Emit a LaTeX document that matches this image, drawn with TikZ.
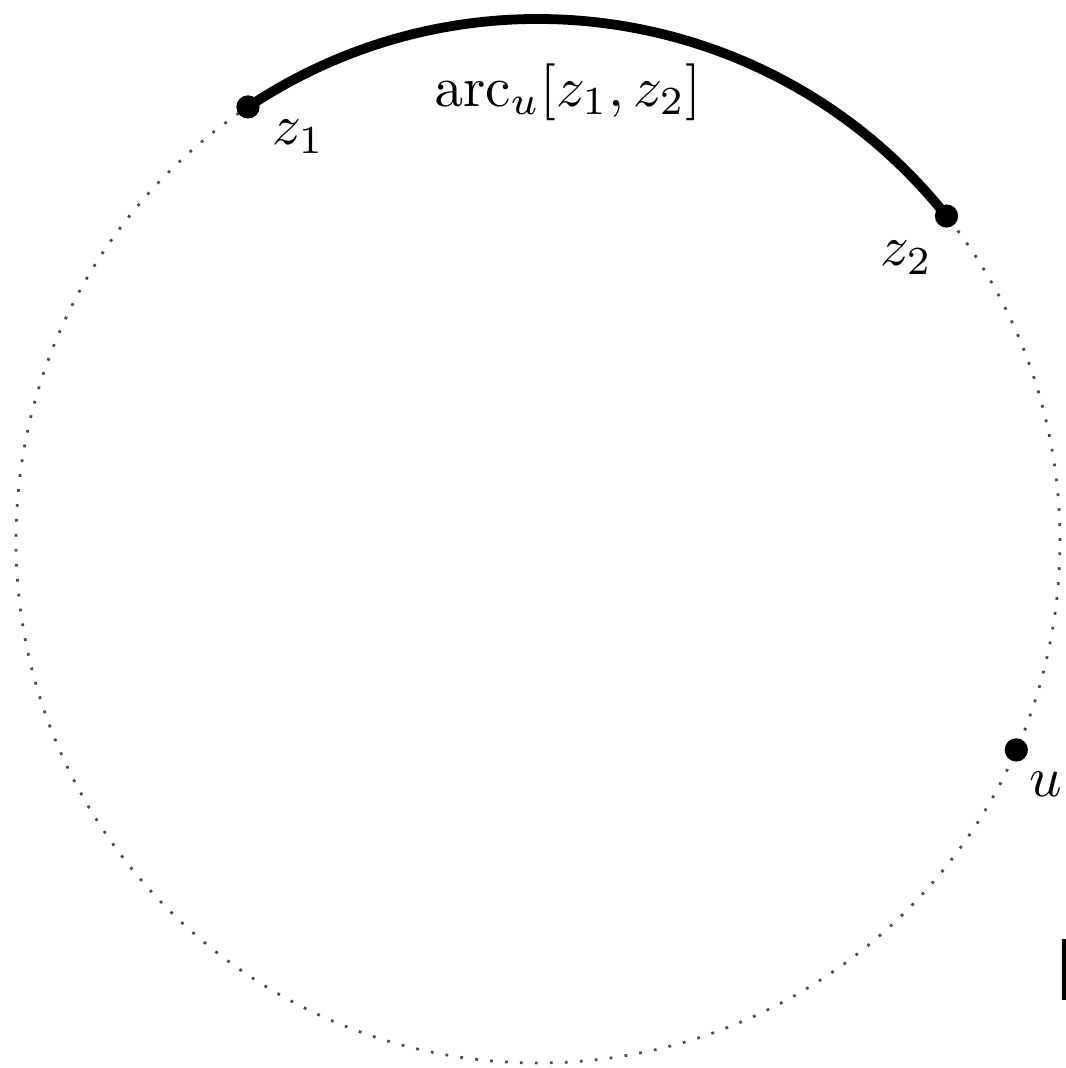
\documentclass[tikz,border=0pt]{standalone}
\usepackage{amsmath}
\usepackage{tikz}
\usetikzlibrary{positioning,calc}

\tikzset{
  pt/.style={circle, fill=black, inner sep=0pt, minimum size=3.8pt},
  lab/.style={inner sep=1pt, scale=0.93}
}

\begin{document}
\begin{tikzpicture}
  \useasboundingbox (-3.092,-3.029) rectangle (3.034,3.109);

  % Dotted circle
  \draw[dotted, black!70, line width=0.45pt] (0,0) circle (3);

  % Points on the circle
  \coordinate (z1) at (123.75:3);
  \coordinate (z2) at (38.5:3);
  \coordinate (u)  at (-23.6:3);

  % The arc from z1 to z2
  \draw[line width=1.6pt] (z1) arc[start angle=123.75, end angle=38.5, radius=3];

  \node[pt] (dz1) at (z1) {};
  \node[pt] (dz2) at (z2) {};
  \node[pt] (du)  at (u)  {};

  % Labels
  \node[lab] (lz1) at ($(z1)+(0.29,-0.17)$) {$z_1$};
  \node[lab] (lz2) at ($(z2)+(-0.23,-0.24)$) {$z_2$};
  \node[lab] (lu)  at ($(u)+(0.17,-0.20)$) {$u$};
  \node[lab] (larc) at (0.172,2.58) {$\operatorname{arc}_u[z_1,z_2]$};

  % Cut-off letter at the edge
  \node[anchor=west, inner sep=0pt, font=\sffamily\Large] (cut) at (2.96,-2.466) {F};
\end{tikzpicture}
\end{document}
